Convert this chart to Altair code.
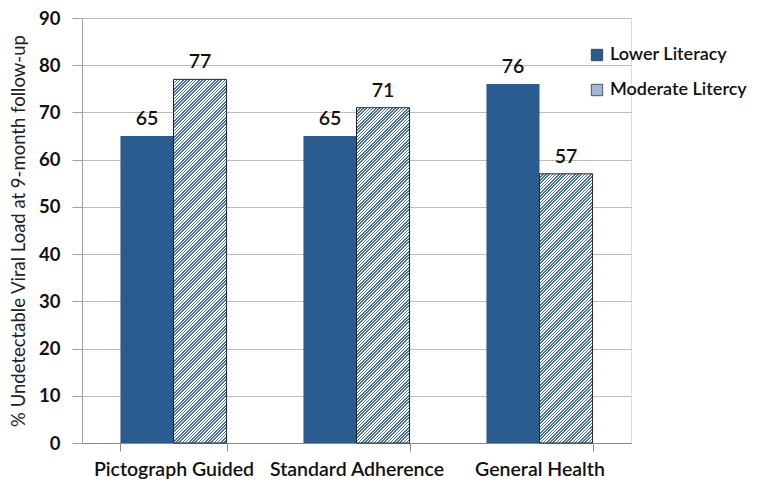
import altair as alt
import pandas as pd

categories = ["Pictograph Guided", "Standard Adherence", "General Health"]
groups = ["Lower Literacy", "Moderate Litercy"]
lower_values = [65, 65, 76]
moderate_values = [77, 71, 57]

rows = []
for c, lv, mv in zip(categories, lower_values, moderate_values):
    rows.append({"category": c, "group": groups[0], "value": lv})
    rows.append({"category": c, "group": groups[1], "value": mv})
df = pd.DataFrame(rows)

BLUE = "#2a5c8f"
STRIPE = "#4673a6"
PLOT_W = 549
PLOT_H = 425
Y_MAX = 90
BAR_W = 53.0
FONT = "Lato"
PERIOD = 3.2          # hatch period in px
SEG_PX = 32.0         # hatch tile height in px (multiple of PERIOD)
OVERLAP_PX = 1.0
PX_PER_UNIT = PLOT_H / Y_MAX


def hatch_gradient(h_px):
    W = BAR_W
    H = h_px
    k = (W + H) / (W * W + H * H)
    total = W + H
    stops = []
    i = 0
    while i * PERIOD < total:
        a = i * PERIOD / total
        b = min((i + 0.5) * PERIOD / total, 1.0)
        e = min((i + 1) * PERIOD / total, 1.0)
        stops += [
            {"offset": a, "color": STRIPE},
            {"offset": b, "color": STRIPE},
            {"offset": b, "color": "#ffffff"},
            {"offset": e, "color": "#ffffff"},
        ]
        i += 1
    return alt.LinearGradient(
        gradient="linear", x1=0, y1=0, x2=W * k, y2=H * k, stops=stops
    )


# hatch tiles derived from the moderate-literacy values
seg_units = SEG_PX / PX_PER_UNIT
ov_units = OVERLAP_PX / PX_PER_UNIT
full_tiles = []
rem_tiles = []
for c, mv in zip(categories, moderate_values):
    h_px = mv * PX_PER_UNIT
    m = int(h_px // SEG_PX)
    for j in range(m):
        top = mv - j * seg_units
        bot = max(top - seg_units - ov_units, 0)
        full_tiles.append({"category": c, "group": groups[1], "top": top, "bot": bot})
    rem_top = mv - m * seg_units
    rem_tiles.append((c, rem_top, rem_top * PX_PER_UNIT))
full_df = pd.DataFrame(full_tiles)

x_enc = alt.X(
    "category:N",
    sort=categories,
    scale=alt.Scale(paddingInner=0.42, paddingOuter=0.21),
    axis=alt.Axis(
        title=None,
        labelAngle=0,
        tickBand="extent",
        labelFontSize=19.5,
        labelFont=FONT,
        labelFontWeight=600,
        labelColor="#111111",
        labelPadding=9,
        tickSize=8,
        domainColor="#8a8a8a",
        tickColor="#8a8a8a",
        grid=False,
    ),
)
y_axis = alt.Axis(
    title="% Undetectable Viral Load at 9-month follow-up",
    values=list(range(0, 91, 10)),
    titleFontSize=18.5,
    titleFont=FONT,
    titleFontWeight="normal",
    titleColor="#222222",
    titlePadding=10,
    labelFontSize=18.5,
    labelFont=FONT,
    labelFontWeight="bold",
    labelColor="#111111",
    labelPadding=12,
    tickSize=10,
    domainColor="#a0a0a0",
    tickColor="#a0a0a0",
    gridColor="#bdbdbd",
    grid=True,
)
y_scale = alt.Scale(domain=[0, Y_MAX], nice=False)
y_enc = alt.Y("value:Q", scale=y_scale, axis=y_axis)
xoff = alt.XOffset("group:N", scale=alt.Scale(domain=groups))

base = alt.Chart(df)

lower = base.transform_filter(alt.datum.group == groups[0]).mark_bar().encode(
    x=x_enc,
    y=y_enc,
    xOffset=xoff,
    color=alt.Color(
        "group:N",
        scale=alt.Scale(domain=groups, range=[BLUE, "#a3b9d3"]),
        legend=alt.Legend(
            title=None,
            orient="none",
            legendX=506,
            legendY=28,
            symbolType="square",
            symbolSize=130,
            symbolStrokeColor="#333333",
            symbolStrokeWidth=0.8,
            labelFontSize=18,
            labelFont=FONT,
            labelFontWeight=600,
            labelColor="#111111",
            rowPadding=17,
            labelOffset=4,
        ),
    ),
)

tiles = alt.Chart(full_df).mark_bar(
    fill=hatch_gradient(SEG_PX + OVERLAP_PX), strokeWidth=0
).encode(
    x=x_enc,
    y=alt.Y("top:Q", scale=y_scale, axis=y_axis),
    y2="bot:Q",
    xOffset=xoff,
)

rem_layers = []
for c, rtop, rpx in rem_tiles:
    rem_df = pd.DataFrame([{"category": c, "group": groups[1], "top": rtop, "bot": 0}])
    rem_layers.append(
        alt.Chart(rem_df).mark_bar(fill=hatch_gradient(rpx), strokeWidth=0).encode(
            x=x_enc,
            y=alt.Y("top:Q", scale=y_scale, axis=y_axis),
            y2="bot:Q",
            xOffset=xoff,
        )
    )

outline = base.transform_filter(alt.datum.group == groups[1]).mark_bar(
    fillOpacity=0, stroke="#222222", strokeWidth=1
).encode(x=x_enc, y=y_enc, xOffset=xoff)

labels = base.mark_text(
    baseline="bottom", dy=-7, fontSize=19.5, font=FONT, fontWeight=600, color="#111111"
).encode(x=x_enc, y=y_enc, xOffset=xoff, text=alt.Text("value:Q"))

chart = alt.layer(lower, tiles, *rem_layers, outline, labels).properties(
    width=PLOT_W,
    height=PLOT_H,
    autosize=alt.AutoSizeParams(type="none"),
    padding={"left": 74, "top": 10, "right": 125, "bottom": 38},
).configure_view(stroke=None).configure(background="white")

chart.save("out.html", embed_options={"renderer": "svg", "actions": False})
